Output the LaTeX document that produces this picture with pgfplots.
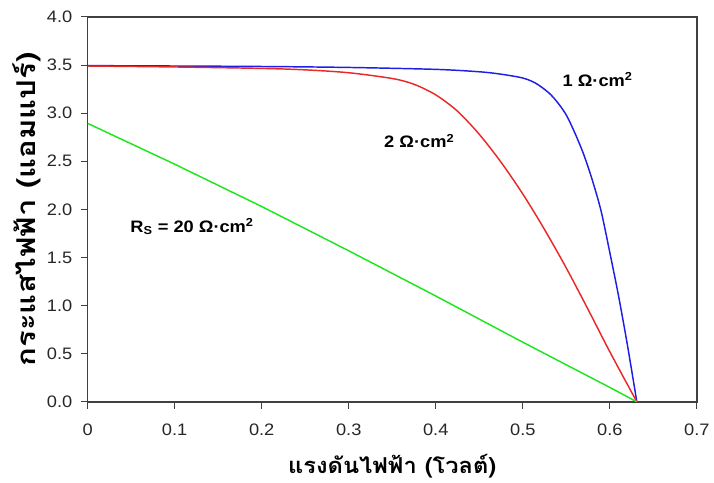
\documentclass[border=0pt]{standalone}
\usepackage{fontspec}
\setmainfont{Liberation Sans}[FakeStretch=1.1]
\newfontfamily\thaifont[Script=Thai,FakeStretch=1.08]{Loma}
\newfontfamily\thaiy[Script=Thai,FakeStretch=1.2]{Loma}
\usepackage{pgfplots}
\pgfplotsset{compat=1.18}

\definecolor{cblue}{RGB}{30,30,230}
\definecolor{cred}{RGB}{235,40,40}
\definecolor{cgreen}{RGB}{30,230,30}

\begin{document}
\begin{tikzpicture}
\begin{axis}[
    scale only axis,
    width=459pt,
    height=290pt,
    xmin=0, xmax=0.7,
    ymin=0, ymax=4,
    xtick={0,0.1,0.2,0.3,0.4,0.5,0.6,0.7},
    xticklabels={0,0.1,0.2,0.3,0.4,0.5,0.6,0.7},
    ytick={0,0.5,1,1.5,2,2.5,3,3.5,4},
    yticklabel style={xshift=-3pt,/pgf/number format/.cd,fixed,fixed zerofill,precision=1},
    /pgf/number format/assume math mode=true,
    tick label style={font=\fontsize{12.5}{14}\selectfont, text=black!85},
    xticklabel style={yshift=-8pt},
    tick align=outside,
    xtick pos=bottom,
    ytick pos=left,
    major tick length=5pt,
    axis line style={black!75, line width=1pt},
    every tick/.style={black!75, line width=0.8pt},
    xlabel={\thaifont\bfseries แรงดันไฟฟ้า (โวลต์)},
    ylabel={\thaiy\bfseries กระแสไฟฟ้า (แอมแปร์)},
    xlabel style={font=\fontsize{16.5}{19}\selectfont, yshift=-7pt},
    ylabel style={font=\fontsize{19.5}{22}\selectfont, yshift=-2pt},
]
\addplot[cblue, line width=1.1pt, smooth, tension=0.5] coordinates {
(0,3.494) (0.1,3.490) (0.2,3.485) (0.3,3.475) (0.4,3.455) (0.45,3.43)
(0.475,3.405) (0.5,3.365) (0.515,3.31) (0.53,3.21) (0.54,3.11) (0.55,2.98)
(0.56,2.79) (0.57,2.57) (0.58,2.30) (0.59,1.98) (0.6,1.55) (0.61,1.10)
(0.62,0.60) (0.631,0.0)};
\addplot[cred, line width=1.1pt, smooth, tension=0.5] coordinates {
(0,3.49) (0.1,3.48) (0.2,3.465) (0.25,3.45) (0.3,3.42) (0.35,3.36)
(0.375,3.30) (0.4,3.19) (0.425,3.02) (0.45,2.78) (0.475,2.49) (0.5,2.16)
(0.525,1.79) (0.55,1.39) (0.575,0.96) (0.6,0.52) (0.631,0.0)};
\addplot[cgreen, line width=1.1pt] coordinates {
(0,2.894) (0.1,2.47) (0.2,2.03) (0.3,1.57) (0.4,1.10) (0.5,0.62)
(0.55,0.385) (0.6,0.15) (0.631,0.0)};
\node[font=\bfseries\fontsize{12.5}{14}\selectfont] at (axis cs:0.586,3.35) {1 Ω·cm\textsuperscript{2}};
\node[font=\bfseries\fontsize{12.5}{14}\selectfont] at (axis cs:0.381,2.71) {2 Ω·cm\textsuperscript{2}};
\node[font=\bfseries\fontsize{12.5}{14}\selectfont] at (axis cs:0.12,1.82) {R\textsubscript{S} = 20 Ω·cm\textsuperscript{2}};
\end{axis}
\path ([xshift=-66pt,yshift=-59pt]current axis.south west) rectangle ([xshift=10.5pt,yshift=12.75pt]current axis.north east);
\end{tikzpicture}
\end{document}
